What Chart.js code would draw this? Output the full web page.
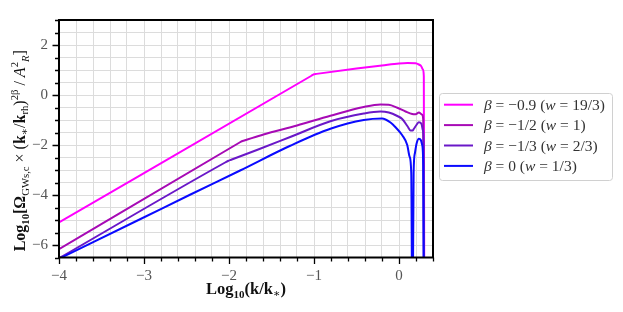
<!DOCTYPE html>
<html>
<head>
<meta charset="utf-8">
<script src="https://cdn.jsdelivr.net/npm/chart.js@4"></script>
<style>
  body { margin: 0; background: #fff; }
  #wrap { width: 623px; height: 312px; }
</style>
</head>
<body>
<div id="wrap"><canvas id="gwChart"></canvas></div>
<script>
// series (x = log10(k/k*), y = log10 of the spectrum)
var xBeta09 = [-4, -1.03, -1, -0.97, -0.5, -0.2, 0, 0.1, 0.195, 0.233, 0.262, 0.282, 0.292, 0.298];
var yBeta09 = [-5.1, 0.77, 0.83, 0.845, 1.06, 1.18, 1.26, 1.28, 1.27, 1.22, 1.15, 1.02, 0.75, -10];

var xBeta12 = [-4, -1.88, -1.849, -1.82, -1.594, -1.2, -0.807, -0.415, -0.218, -0.12, -0.02, 0.077, 0.155, 0.195, 0.234, 0.273, 0.285, 0.295];
var yBeta12 = [-6.17, -1.91, -1.85, -1.82, -1.58, -1.22, -0.83, -0.48, -0.38, -0.39, -0.51, -0.66, -0.76, -0.77, -0.7, -0.79, -1.0, -10];

var xBeta13 = [-4, -2.04, -2.007, -1.975, -1.672, -1.28, -0.807, -0.415, -0.218, -0.12, -0.02, 0.038, 0.1, 0.136, 0.16, 0.175, 0.205, 0.234, 0.265, 0.28, 0.29, 0.296];
var yBeta13 = [-6.53, -2.69, -2.63, -2.59, -2.2, -1.68, -1.05, -0.74, -0.66, -0.7, -0.84, -0.96, -1.25, -1.42, -1.42, -1.35, -1.2, -1.09, -1.16, -1.4, -2.0, -10];

var xBeta0 = [-4, -3.047, -2.459, -1.869, -1.28, -0.807, -0.415, -0.2, -0.1, -0.041, 0.038, 0.097, 0.124, 0.144, 0.158, 0.172, 0.187, 0.207, 0.234, 0.258, 0.273, 0.285, 0.293];
var yBeta0 = [-6.55, -4.97, -3.99, -3.02, -2.03, -1.35, -1.0, -0.94, -1.1, -1.29, -1.61, -2.0, -2.46, -3.11, -10, -3.11, -2.33, -1.94, -1.75, -1.81, -2.0, -2.8, -10];

var legendLabels = ["β = −0.9 (w = 19/3)", "β = −1/2 (w = 1)", "β = −1/3 (w = 2/3)", "β = 0 (w = 1/3)"];
var lineColors = ["#ff00ff", "#a70ab5", "#6a18c8", "#0a0aff"];

var SERIF = '"Liberation Serif", "DejaVu Serif", serif';

function pts(xs, ys) {
    return xs.map(function(x, i) { return { x: x, y: ys[i] }; });
}

function minusLabel(v) {
    var r = Math.round(v);
    return r < 0 ? "\u2212" + Math.abs(r) : String(r);
}

// draw a run of text pieces with different fonts / offsets
function drawRich(ctx, segs, x, y) {
    var w = 0;
    segs.forEach(function(s) { ctx.font = s.f; w += ctx.measureText(s.t).width; });
    var cx = x - w / 2;
    segs.forEach(function(s) {
        ctx.font = s.f;
        ctx.fillText(s.t, cx, y + (s.dy || 0));
        cx += ctx.measureText(s.t).width;
    });
}

var extras = {
    id: "extras",
    afterDraw: function(chart) {
        var ctx = chart.ctx, a = chart.chartArea;
        var xs = chart.scales.x, ys = chart.scales.y;
        ctx.save();

        // frame
        ctx.strokeStyle = "#000";
        ctx.lineWidth = 2;
        ctx.strokeRect(a.left, a.top, a.right - a.left, a.bottom - a.top);

        // tick marks (major / minor)
        ctx.lineWidth = 1.3;
        ctx.beginPath();
        xs.ticks.forEach(function(t) {
            var p = Math.round(xs.getPixelForValue(t.value)) + 0.5;
            var major = Math.abs(t.value - Math.round(t.value)) < 1e-6;
            ctx.moveTo(p, a.bottom);
            ctx.lineTo(p, a.bottom + (major ? 6.5 : 4));
        });
        ys.ticks.forEach(function(t) {
            var p = Math.round(ys.getPixelForValue(t.value)) + 0.5;
            var r = Math.round(t.value);
            var major = Math.abs(t.value - r) < 1e-6 && r % 2 === 0;
            ctx.moveTo(a.left, p);
            ctx.lineTo(a.left - (major ? 6.5 : 4), p);
        });
        ctx.stroke();

        // axis titles
        ctx.fillStyle = "#111";
        ctx.textBaseline = "alphabetic";
        var B = "bold 16.5px " + SERIF, SB = "bold 11px " + SERIF;
        drawRich(ctx, [
            { t: "Log", f: B }, { t: "10", f: SB, dy: 4 }, { t: "(k/k", f: B },
            { t: "\u2217", f: "11px " + SERIF, dy: 3 }, { t: ")", f: B }
        ], (a.left + a.right) / 2, 294);

        B = "bold 16px " + SERIF; SB = "bold 10.7px " + SERIF;
        var R = "16px " + SERIF, S = "10.7px " + SERIF, I = "italic 16px " + SERIF, SI = "italic 10.7px " + SERIF;
        ctx.save();
        ctx.translate(25, (a.top + a.bottom) / 2 + 12);
        ctx.rotate(-Math.PI / 2);
        drawRich(ctx, [
            { t: "Log", f: B }, { t: "10", f: SB, dy: 4 }, { t: "[\u03A9", f: B },
            { t: "GWs,c", f: S, dy: 4 }, { t: " \u00D7 (", f: R }, { t: "k", f: B },
            { t: "\u2217", f: S, dy: 3 }, { t: "/", f: R }, { t: "k", f: B },
            { t: "rh", f: S, dy: 3 }, { t: ")", f: R }, { t: "2\u03B2", f: S, dy: -7 },
            { t: " / ", f: R }, { t: "A", f: I }, { t: "2", f: S, dy: -7 },
            { t: "R", f: SI, dy: 4 }, { t: "]", f: R }
        ], 0, 0);
        ctx.restore();

        // legend
        var lx = 439.5, ly = 93.5, lw = 173, lh = 87;
        ctx.beginPath();
        ctx.roundRect(lx, ly, lw, lh, 3);
        ctx.fillStyle = "rgba(255,255,255,0.85)";
        ctx.fill();
        ctx.strokeStyle = "#d0d0d0";
        ctx.lineWidth = 1;
        ctx.stroke();

        legendLabels.forEach(function(lab, i) {
            var ry = 104.7 + i * 20.4;
            ctx.strokeStyle = lineColors[i];
            ctx.lineWidth = 2;
            ctx.beginPath();
            ctx.moveTo(444, ry);
            ctx.lineTo(473, ry);
            ctx.stroke();

            ctx.fillStyle = "#333";
            ctx.textBaseline = "middle";
            var cx = 484;
            lab.split("").forEach(function(ch) {
                ctx.font = (ch === "β" || ch === "w" ? "italic " : "") + "15.5px " + SERIF;
                ctx.fillText(ch, cx, ry + 1);
                cx += ctx.measureText(ch).width;
            });
        });
        ctx.restore();
    }
};

document.addEventListener("DOMContentLoaded", function() {
    var ctx = document.getElementById("gwChart").getContext("2d");
    var series = [
        [xBeta09, yBeta09], [xBeta12, yBeta12], [xBeta13, yBeta13], [xBeta0, yBeta0]
    ];

    new Chart(ctx, {
        type: "line",
        data: {
            datasets: series.map(function(s, i) {
                return {
                    label: legendLabels[i],
                    data: pts(s[0], s[1]),
                    borderColor: lineColors[i],
                    borderWidth: 2,
                    pointRadius: 0,
                    cubicInterpolationMode: "monotone",
                    fill: false,
                    order: 3 - i // blue drawn on top, like the original
                };
            })
        },
        options: {
            responsive: true,
            maintainAspectRatio: false,
            animation: false,
            layout: { padding: { top: 15, right: 190, left: 0, bottom: 0 } },
            plugins: { legend: { display: false }, tooltip: { enabled: false } },
            scales: {
                x: {
                    type: "linear",
                    min: -4,
                    max: 0.4,
                    ticks: {
                        stepSize: 0.2,
                        autoSkip: false,
                        maxRotation: 0,
                        padding: 10,
                        color: "#555",
                        font: { family: SERIF, size: 15 },
                        callback: function(v) {
                            return Math.abs(v - Math.round(v)) < 1e-6 ? minusLabel(v) : "";
                        }
                    },
                    grid: { color: "#dcdcdc", drawTicks: false },
                    border: { display: false },
                    afterFit: function(s) { s.height = 54.5; }
                },
                y: {
                    min: -6.5,
                    max: 3,
                    ticks: {
                        stepSize: 0.5,
                        autoSkip: false,
                        padding: 11,
                        color: "#555",
                        font: { family: SERIF, size: 15 },
                        callback: function(v) {
                            var r = Math.round(v);
                            return Math.abs(v - r) < 1e-6 && r % 2 === 0 ? minusLabel(v) : "";
                        }
                    },
                    grid: { color: "#dcdcdc", drawTicks: false },
                    border: { display: false },
                    afterFit: function(s) { s.width = 59; }
                }
            }
        },
        plugins: [extras]
    });
});
</script>
</body>
</html>
